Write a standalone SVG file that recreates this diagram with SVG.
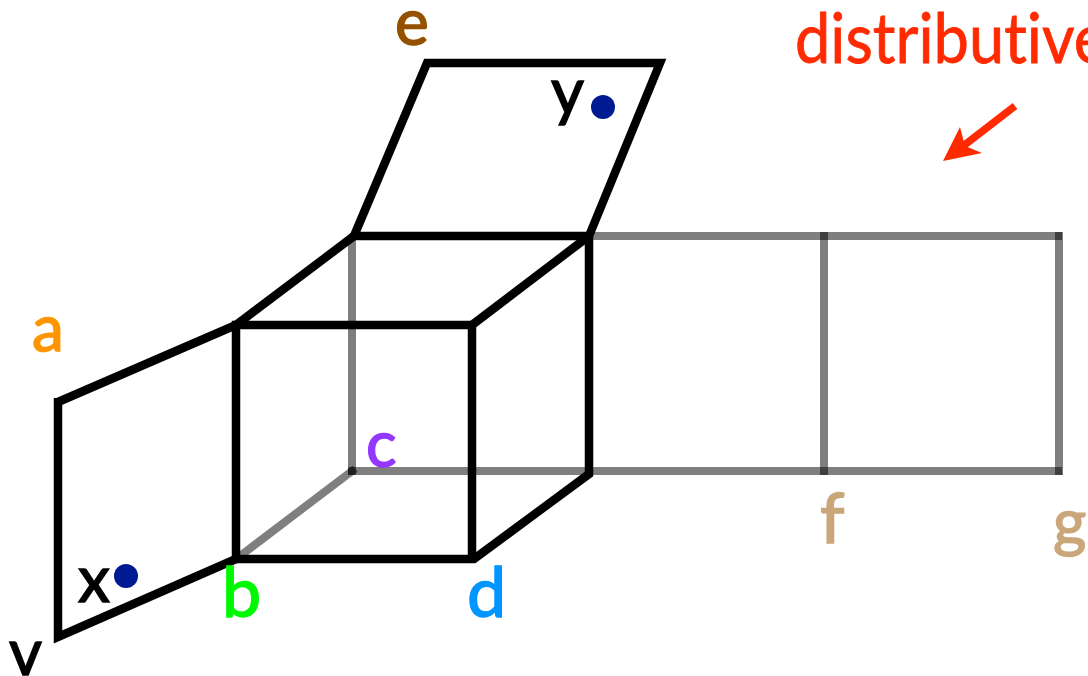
<svg xmlns="http://www.w3.org/2000/svg" width="1088" height="676" viewBox="0 0 1088 676">
<style>
.k{fill:none;stroke:#000;stroke-width:8.5;stroke-linejoin:miter;stroke-linecap:butt}
.g{fill:none;stroke:#000;stroke-opacity:.5;stroke-width:8;stroke-linecap:square}
.t{font-family:"Lato","Open Sans",sans-serif;font-size:64px;font-weight:400;stroke-width:1.5;font-variant-ligatures:none}
.tall{font-size:70px}
.dot{fill:#001b92}
</style>
<rect width="1088" height="676" fill="#fff"/>
<g id="connectors">
<path class="g" d="M352 240V471"/>
<path class="g" d="M352 471L240 556"/>
<path class="g" d="M352 471H1058"/>
<path class="g" d="M593 236H1058"/>
<path class="g" d="M824 236V471"/>
<path class="g" d="M1059 236V471"/>
<path class="k" d="M354 236H589V474L474 559H236V325H472V559"/>
<path class="k" d="M236 325L354 236"/>
<path class="k" d="M472 325L589 236"/>
<path class="k" d="M58 402L236 325"/>
<path class="k" d="M58 398V637L236 559"/>
<path class="k" d="M354 236L427 63H660L589 236"/>
<path fill="none" stroke="#ff2a00" stroke-width="7.5" d="M1015 106L958 150"/>
<path fill="#ff2a00" d="M943 161L960 127L965 146L982 153Z"/>
</g>
<g id="node-a"><text class="t" x="32" y="351" fill="#ff9500" stroke="#ff9500">a</text></g>
<g id="node-b"><text class="t tall" x="222" y="617" fill="#00f900" stroke="#00f900">b</text></g>
<g id="node-c"><text class="t" x="366" y="467" fill="#9437ff" stroke="#9437ff">c</text></g>
<g id="node-d"><text class="t tall" x="467" y="617" fill="#0096ff" stroke="#0096ff">d</text></g>
<g id="node-e"><text class="t" x="395" y="45" fill="#945200" stroke="#945200">e</text></g>
<g id="node-f"><text class="t tall" x="820" y="543" fill="#c9a77a" stroke="#c9a77a">f</text></g>
<g id="node-g"><text class="t" x="1053" y="545" fill="#c9a77a" stroke="#c9a77a">g</text></g>
<g id="node-v"><text class="t" x="9" y="675" fill="#000" stroke="#000">v</text></g>
<g id="node-x"><text class="t" x="78" y="602" fill="#000" stroke="#000">x</text><circle class="dot" cx="126" cy="576" r="12"/></g>
<g id="node-y"><text class="t" x="551" y="114" fill="#000" stroke="#000">y</text><circle class="dot" cx="603" cy="107" r="12"/></g>
<g id="label-distributive"><text class="t tall" x="795" y="63" fill="#ff2a00" stroke="#ff2a00" style="stroke-width:.8" textLength="312" lengthAdjust="spacingAndGlyphs">distributive</text></g>
</svg>
